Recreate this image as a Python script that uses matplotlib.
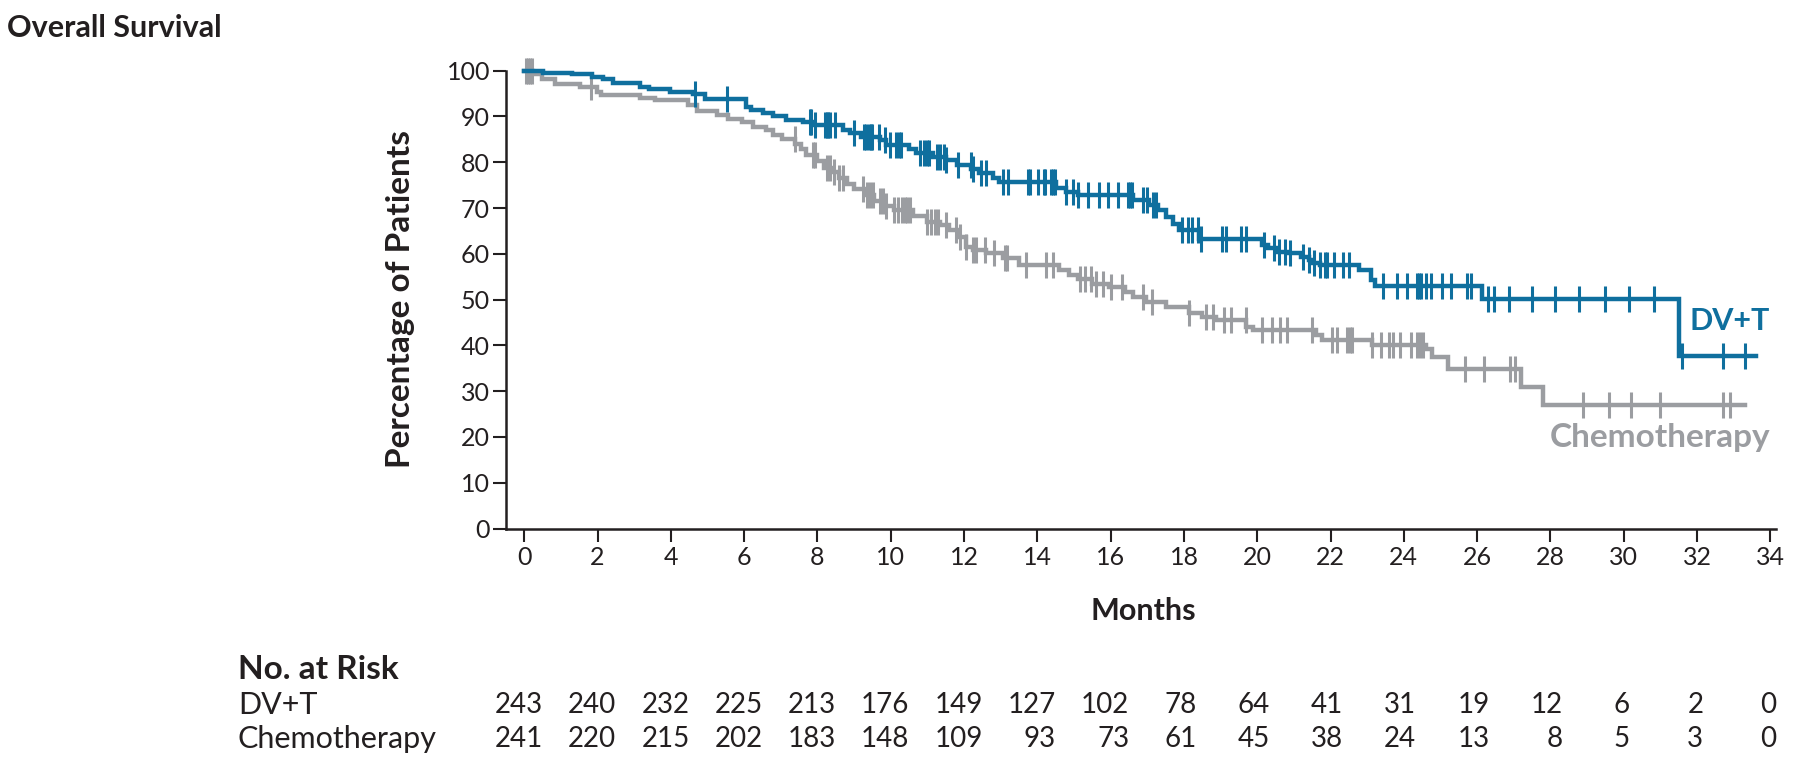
import numpy as np
import matplotlib
matplotlib.use("Agg")
import matplotlib.pyplot as plt
from matplotlib.transforms import blended_transform_factory

plt.rcParams['font.family'] = ['Lato', 'DejaVu Sans']

# ---- data (months, percent) ----
# DV+T: times where the curve drops and level after the drop
dvt_times = [0.52, 1.29, 1.84, 2.16, 2.43, 3.16, 3.4, 3.97, 4.6, 4.93,
             6.06, 6.2, 6.52, 6.8, 7.15, 7.6, 7.9, 8.7, 8.9, 9.2,
             9.7, 9.88, 10.5, 10.7, 11.15, 11.5, 11.8, 12.2, 12.4, 12.78,
             12.96, 14.5, 14.78, 15.1, 16.6, 17.05, 17.3, 17.5, 17.69, 17.87,
             18.4, 20.14, 20.3, 20.5, 20.8, 21.19, 21.4, 21.5, 21.7, 22.77,
             23.1, 23.2, 26.13, 31.5]
dvt_surv = [99.6, 99.2, 98.7, 98.1, 97.4, 96.5, 95.9, 95.4, 94.9, 93.8,
            92.1, 91.4, 90.7, 90.1, 89.3, 88.8, 88.1, 87.0, 86.3, 85.5,
            84.8, 83.7, 82.8, 82.0, 81.2, 80.6, 79.4, 78.5, 77.6, 76.5,
            75.7, 74.3, 73.5, 72.8, 71.7, 70.6, 69.5, 68.1, 66.6, 65.2,
            63.3, 61.9, 61.2, 60.4, 60.1, 59.3, 58.6, 57.9, 57.5, 56.4,
            54.3, 53.0, 50.2, 37.6]
dvt_end = 33.6
dvt_censor = [4.65, 5.53, 7.79, 7.83, 7.93, 8.2, 8.25, 8.3, 8.35, 8.47,
              9.0, 9.28, 9.33, 9.4, 9.45, 9.5, 9.69, 9.83, 9.97, 10.15,
              10.22, 10.29, 10.8, 10.9, 11.0, 11.05, 11.25, 11.35, 11.45, 11.5,
              11.83, 12.19, 12.24, 12.47, 12.6, 13.05, 13.19, 13.75, 13.8, 14.01,
              14.17, 14.22, 14.38, 14.43, 14.48, 14.78, 14.96, 15.1, 15.37, 15.69,
              15.92, 16.19, 16.47, 16.52, 16.57, 16.87, 17.0, 17.15, 17.25, 17.96,
              18.1, 18.23, 18.37, 18.46, 19.05, 19.14, 19.55, 19.69, 20.19, 20.45,
              20.6, 20.75, 20.9, 21.26, 21.4, 21.55, 21.7, 21.85, 21.9, 22.1,
              22.33, 22.5, 23.44, 23.8, 24.08, 24.37, 24.42, 24.46, 24.6, 24.74,
              25.05, 25.28, 25.73, 25.82, 26.3, 26.45, 26.86, 27.5, 28.13, 28.77,
              29.5, 30.13, 30.83, 31.6, 32.7, 33.3]

# Chemotherapy
chemo_times = [0.25, 0.48, 0.84, 1.52, 1.98, 2.1, 3.16, 3.56, 4.47, 4.7,
               5.25, 5.55, 5.95, 6.24, 6.6, 6.79, 7.03, 7.4, 7.55, 7.7,
               8.0, 8.17, 8.4, 8.58, 8.8, 9.0, 9.3, 9.55, 9.85, 10.1,
               10.6, 11.0, 11.33, 11.6, 11.87, 12.06, 12.24, 12.6, 13.05, 13.5,
               14.6, 14.87, 15.1, 15.5, 15.96, 16.4, 16.6, 16.96, 17.5, 18.14,
               18.5, 18.87, 19.7, 19.87, 21.6, 21.77, 23.14, 24.6, 24.77, 25.2,
               27.2, 27.8]
chemo_surv = [99.2, 98.3, 97.2, 96.5, 95.4, 94.8, 94.1, 93.6, 92.5, 91.2,
              90.4, 89.5, 88.7, 87.8, 87.1, 86.0, 85.0, 83.9, 82.8, 81.6,
              80.3, 78.8, 77.9, 76.5, 75.2, 74.1, 72.8, 71.6, 70.4, 69.5,
              68.2, 67.0, 66.3, 65.2, 63.7, 61.5, 60.8, 60.1, 59.0, 57.5,
              56.4, 55.3, 54.6, 53.5, 52.8, 51.7, 50.6, 49.5, 48.4, 47.0,
              46.2, 45.5, 44.1, 43.3, 42.2, 41.2, 40.1, 39.2, 37.4, 34.9,
              31.0, 27.0]
chemo_end = 33.3
chemo_censor = [0.05, 0.1, 0.15, 0.2, 1.81, 7.38, 7.88, 7.92, 8.25, 8.35,
                8.45, 8.6, 8.7, 9.25, 9.35, 9.42, 9.51, 9.7, 9.8, 9.88,
                10.1, 10.2, 10.3, 10.38, 10.45, 10.52, 11.0, 11.1, 11.2, 11.3,
                11.51, 11.79, 11.9, 12.06, 12.24, 12.33, 12.56, 12.83, 13.12, 13.17,
                13.69, 14.24, 14.42, 15.15, 15.3, 15.45, 15.6, 15.78, 16.0, 16.32,
                16.87, 17.14, 18.14, 18.6, 18.78, 19.1, 19.28, 19.69, 20.14, 20.4,
                20.63, 20.82, 21.5, 22.05, 22.18, 22.46, 22.52, 22.58, 23.14, 23.37,
                23.6, 23.7, 23.9, 24.2, 24.37, 24.45, 24.52, 25.68, 26.18, 26.9,
                27.04, 28.9, 29.6, 30.2, 31.0, 32.7, 32.9]

risk_months = list(range(0, 35, 2))
risk_dvt = [243, 240, 232, 225, 213, 176, 149, 127, 102, 78, 64, 41, 31, 19, 12, 6, 2, 0]
risk_chemo = [241, 220, 215, 202, 183, 148, 109, 93, 73, 61, 45, 38, 24, 13, 8, 5, 3, 0]

BLUE = '#0f6f9e'
GRAY = '#9b9da1'
INK = '#231f20'


def km_curve(times, surv, end):
    t = np.concatenate([[0.0], times, [end]])
    s = np.concatenate([[100.0], surv, [surv[-1]]])
    return t, s


def level_at(times, surv, x):
    t = np.concatenate([[0.0], times])
    s = np.concatenate([[100.0], surv])
    idx = np.searchsorted(t, x, side='right') - 1
    return s[idx]


fig = plt.figure(figsize=(18.16, 7.67), dpi=100)
ax = fig.add_axes([0.2786, 0.3109, 0.6993, 0.5969])

for times, surv, end, cens, col in [
        (chemo_times, chemo_surv, chemo_end, chemo_censor, GRAY),
        (dvt_times, dvt_surv, dvt_end, dvt_censor, BLUE)]:
    t, s = km_curve(times, surv, end)
    ax.plot(t, s, drawstyle='steps-post', color=col, lw=3.2, clip_on=False,
            solid_joinstyle='miter')
    cy = level_at(times, surv, np.array(cens))
    ax.plot(cens, cy, ls='none', marker='|', ms=19, mew=2.2, color=col,
            clip_on=False)

ax.set_xlim(-0.5, 34.15)
ax.set_ylim(0, 100)
ax.set_xticks(range(0, 35, 2))
ax.set_yticks(range(0, 101, 10))
for side in ['top', 'right']:
    ax.spines[side].set_visible(False)
for side in ['left', 'bottom']:
    ax.spines[side].set_linewidth(1.8)
    ax.spines[side].set_color(INK)
ax.tick_params(direction='out', length=9.5, width=1.5, color=INK,
               labelsize=18, labelcolor=INK)
ax.tick_params(axis='y', pad=2)
ax.tick_params(axis='x', pad=3)

ax.text(34.0, 45.3, 'DV+T', color=BLUE, fontsize=22, fontweight='bold',
        ha='right', va='center')
ax.text(34.0, 19.8, 'Chemotherapy', color=GRAY, fontsize=24, fontweight='bold',
        ha='right', va='center')

fig.text(0.004, 0.9635, 'Overall Survival', fontsize=22, fontweight='bold',
         color=INK, ha='left', va='center')
fig.text(0.2203, 0.6102, 'Percentage of Patients', fontsize=24, fontweight='bold',
         color=INK, rotation=90, ha='center', va='center')
fig.text(0.6294, 0.2034, 'Months', fontsize=22, fontweight='bold',
         color=INK, ha='center', va='center')

# number at risk table
fig.text(0.131, 0.1265, 'No. at Risk', fontsize=24, fontweight='bold',
         color=INK, ha='left', va='center')
tr = blended_transform_factory(ax.transData, fig.transFigure)
rows = [('DV+T', risk_dvt, 0.0808), ('Chemotherapy', risk_chemo, 0.0365)]
for name, vals, yy in rows:
    fig.text(0.131, yy, name, fontsize=22, color=INK, ha='left', va='center')
for i, m in enumerate(risk_months):
    ndig = max(len(str(risk_dvt[i])), len(str(risk_chemo[i])))
    xr = m + 0.17 * ndig
    for name, vals, yy in rows:
        ax.text(xr, yy, str(vals[i]), transform=tr, fontsize=20, color=INK,
                ha='right', va='center')

fig.savefig('out.png', dpi=100)
